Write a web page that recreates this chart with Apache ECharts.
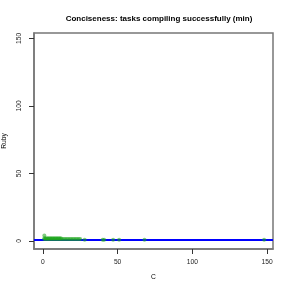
<!DOCTYPE html>
<html><head><meta charset="utf-8">
<script src="https://cdn.jsdelivr.net/npm/echarts@6/dist/echarts.min.js"></script>
<style>html,body{margin:0;padding:0;background:#fff}#c{width:291px;height:291px}</style>
</head><body><div id="c"></div>
<script>
var cValues = [1,1,1,2,2,3,3,4,4,5,5,6,6,7,7,8,8,9,9,10,10,11,11,12,12,13,14,15,16,17,18,19,20,21,22,23,24,25,28,40,41,47,51,68,148];
var rubyValues = [4,2,1.5,2,1.5,2,1.5,2,1.5,2,1.5,2,1.5,2,1.5,2,1.5,2,1.5,2,1.5,2,1.5,2,1.5,1.5,1.5,1.5,1.5,1.5,1.5,1.5,1.5,1.5,1.5,1.5,1.5,1.5,1,1,1,1,1,1,1];
var fitLevel = 1;
var tickValues = [0,50,100,150];
var FONT = 'Liberation Sans, Arial, sans-serif';
var pts = cValues.map(function(x,i){return [x, rubyValues[i]];});
var chart = echarts.init(document.getElementById('c'));
function axis(name, gap, rot, margin, pos){
  return {
    type:'value', position:pos, min:-5.92, max:153.92, name:name, nameLocation:'middle', nameGap:gap,
    nameTextStyle:{fontFamily:FONT,fontSize:6.7,color:'#000'},
    axisLine:{show:true,onZero:false,lineStyle:{color:'#777',width:1.5}},
    axisTick:{show:true,inside:false,length:5,customValues:tickValues,lineStyle:{color:'#333',width:1}},
    axisLabel:{show:true,customValues:tickValues,fontFamily:FONT,fontSize:6.7,color:'#222',margin:margin,rotate:rot},
    splitLine:{show:false}
  };
}
chart.setOption({
  animation:false,
  title:{text:'Conciseness: tasks compiling successfully (min)',left:154,top:10,textAlign:'center',
    textStyle:{fontFamily:FONT,fontSize:8,fontWeight:'bold',color:'#000'}},
  grid:{left:34,right:18,top:33,bottom:42,show:true,borderColor:'#777',borderWidth:1.5,
    backgroundColor:'transparent',containLabel:false,outerBoundsMode:'none'},
  xAxis:axis('C',25,0,10,'bottom'),
  yAxis:axis('Ruby',26,90,11,'left'),
  series:[{
    type:'scatter', data:pts, symbolSize:4, z:3,
    itemStyle:{color:'rgba(30,165,30,0.7)'},
    markLine:{silent:true,symbol:'none',label:{show:false},
      lineStyle:{color:'#0000ff',width:2,type:'solid'},
      data:[{yAxis:fitLevel}], z:2}
  }]
});
</script></body></html>
